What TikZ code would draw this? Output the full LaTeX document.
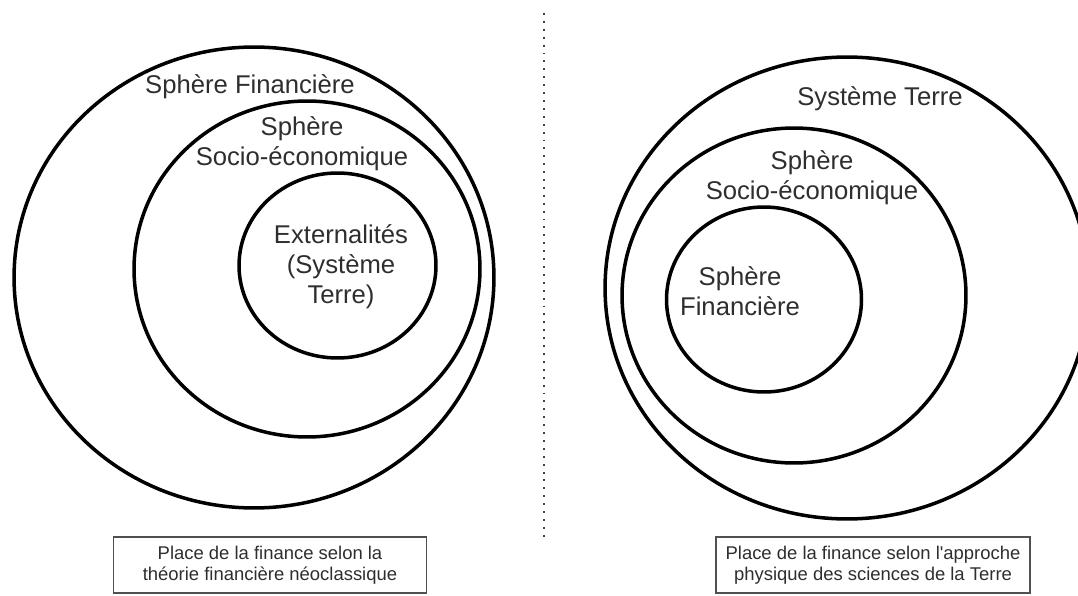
\documentclass[tikz,border=0pt]{standalone}
\usepackage{fontspec}
\setmainfont{Liberation Sans}
\usetikzlibrary{positioning}
\definecolor{textgray}{HTML}{2E2E2E}
\definecolor{boxgray}{HTML}{505050}
\definecolor{dotgray}{HTML}{404040}

\tikzset{
  sphere/.style={line width=2pt,color=black},
  spheretext/.style={align=center,text=textgray,inner sep=0pt,font=\fontsize{14.6pt}{17pt}\selectfont},
  capbox/.style={draw=boxgray,line width=0.8pt,align=center,text=textgray,inner sep=0pt,
     minimum height=1.12cm,font=\fontsize{10.5pt}{11.9pt}\selectfont}
}

\begin{document}
\begin{tikzpicture}[x=0.02cm,y=-0.02cm]
   \useasboundingbox (0,0) rectangle (1078,595);
   \clip (0,0) rectangle (1078,595);

	 % theorie neoclassique
	 \draw[sphere] (254,277.5) ellipse [x radius=4.8cm, y radius=4.61cm];
	 \draw[sphere] (307,269) ellipse [x radius=3.46cm, y radius=3.36cm];
	 \draw[sphere] (337.5,265.5) ellipse [x radius=1.97cm, y radius=1.85cm];

    \node[spheretext,anchor=base] (finL) at (250,93) {Sphère Financière};
    \node[spheretext] (socL) at (302,144) {Sphère\\Socio-économique};
    \node[spheretext] (extL) at (341,267) {Externalités\\(Système\\Terre)};

	  % separation
	  \coordinate (septop) at (544,13);
	  \coordinate (sepbot) at (544,537);
	  \draw[dotgray,line width=1.1pt,dash pattern=on 1.1pt off 3.4pt] (septop) -- (sepbot);

	 % sciences de la Terre
	 \draw[sphere] (847,288) ellipse [x radius=4.84cm, y radius=4.62cm];
	 \draw[sphere] (794,295.5) ellipse [x radius=3.44cm, y radius=3.35cm];
	 \draw[sphere] (764,299.5) ellipse [x radius=1.95cm, y radius=1.85cm];

    \node[spheretext,anchor=base] (terR) at (880,105) {Système Terre};
    \node[spheretext] (socR) at (812,178) {Sphère\\Socio-économique};
    \node[spheretext] (finR) at (740,291) {Sphère\\Financière};

   \node[capbox,minimum width=6.25cm] (capL) at (270,565) {Place de la finance selon la\\théorie financière néoclassique};
   \node[capbox,minimum width=6.28cm] (capR) at (873,565) {Place de la finance selon l\textquotesingle approche\\physique des sciences de la Terre};

\end{tikzpicture}
\end{document}
